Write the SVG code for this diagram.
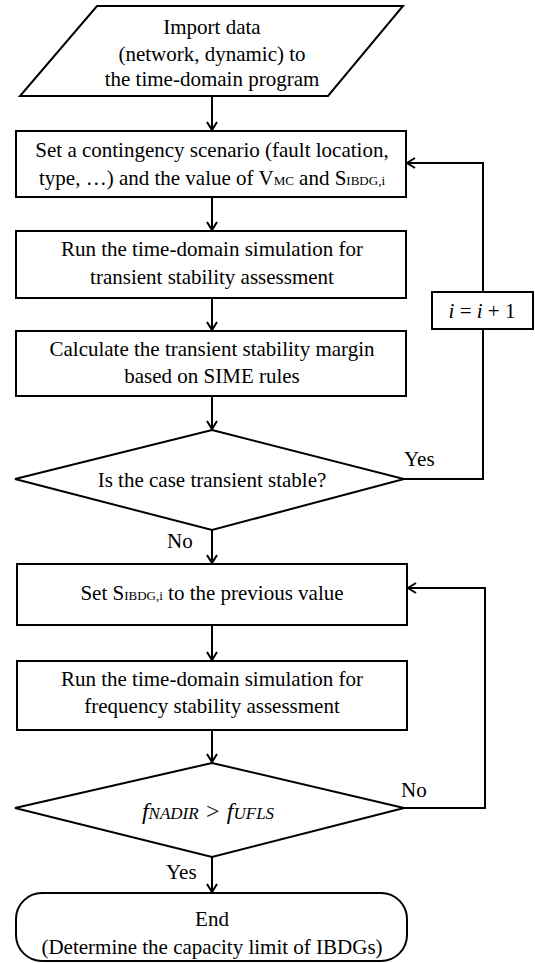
<svg xmlns="http://www.w3.org/2000/svg" width="535" height="963" viewBox="0 0 535 963">
<defs>
<marker id="ah" markerUnits="userSpaceOnUse" markerWidth="14" markerHeight="14" refX="10" refY="6" orient="auto">
<path d="M2,1 L10,6 L2,11" fill="none" stroke="#000" stroke-width="2"/>
</marker>
<style>
.s{fill:#fff;stroke:#000;stroke-width:2}
.c{fill:none;stroke:#000;stroke-width:2}
.a{marker-end:url(#ah)}
text{font-family:"Liberation Serif","Times New Roman",serif;font-size:21px;fill:#000}
.m{text-anchor:middle}
.sub{font-size:13px}
.it{font-style:italic}
</style>
</defs>
<rect width="535" height="963" fill="#fff"/>
<g id="connectors">
<line class="c a" x1="212" y1="96" x2="212" y2="130"/>
<line class="c a" x1="212" y1="197" x2="212" y2="230"/>
<line class="c a" x1="212" y1="298" x2="212" y2="330"/>
<line class="c a" x1="212" y1="396" x2="212" y2="429"/>
<line class="c a" x1="212" y1="530" x2="212" y2="563"/>
<line class="c a" x1="212" y1="625" x2="212" y2="660"/>
<line class="c a" x1="212" y1="730" x2="212" y2="762"/>
<line class="c a" x1="212" y1="857" x2="212" y2="892"/>
<polyline class="c" points="404,479 483,479 483,329"/>
<polyline class="c a" points="483,292 483,163 407,163"/>
<polyline class="c a" points="404,808 485,808 485,588 408,588"/>
<text x="404" y="466">Yes</text>
<text x="167" y="548">No</text>
<text x="401" y="797">No</text>
<text x="166" y="879">Yes</text>
</g>
<g id="import">
<polygon class="s" points="97,6 403,6 328,96 20,96"/>
<text class="m" x="212" y="34">Import data</text>
<text class="m" x="212" y="61">(network, dynamic) to</text>
<text class="m" x="212" y="86">the time-domain program</text>
</g>
<g id="set-scenario">
<rect class="s" x="16" y="131" width="390" height="66"/>
<text class="m" x="212" y="157">Set a contingency scenario (fault location,</text>
<text class="m" x="212" y="185">type, …) and the value of V<tspan class="sub">MC</tspan> and S<tspan class="sub">IBDG,i</tspan></text>
</g>
<g id="run-transient">
<rect class="s" x="16" y="231" width="390" height="67"/>
<text class="m" x="212" y="256">Run the time-domain simulation for</text>
<text class="m" x="212" y="284">transient stability assessment</text>
</g>
<g id="calc-margin">
<rect class="s" x="16" y="331" width="390" height="65"/>
<text class="m" x="212" y="356">Calculate the transient stability margin</text>
<text class="m" x="212" y="383">based on SIME rules</text>
</g>
<g id="increment">
<rect class="s" x="432" y="292" width="101" height="37"/>
<text class="m" x="482" y="318" style="font-size:21px"><tspan class="it">i</tspan> = <tspan class="it">i</tspan> + 1</text>
</g>
<g id="decision-transient">
<polygon class="s" points="212,430 404,479 212,530 15,479"/>
<text class="m" x="212" y="487">Is the case transient stable?</text>
</g>
<g id="set-previous">
<rect class="s" x="17" y="564" width="390" height="61"/>
<text class="m" x="212" y="600">Set S<tspan class="sub">IBDG,i</tspan> to the previous value</text>
</g>
<g id="run-frequency">
<rect class="s" x="17" y="661" width="390" height="69"/>
<text class="m" x="212" y="686">Run the time-domain simulation for</text>
<text class="m" x="212" y="713">frequency stability assessment</text>
</g>
<g id="decision-frequency">
<polygon class="s" points="212,763 404,808 212,857 15,808"/>
<text class="m it" x="208" y="819" style="font-size:24px">f<tspan style="font-size:17px">NADIR</tspan> &gt; f<tspan style="font-size:17px">UFLS</tspan></text>
</g>
<g id="end">
<rect class="s" x="16" y="893" width="391" height="68" rx="26" ry="26"/>
<text class="m" x="212" y="926">End</text>
<text class="m" x="212" y="954">(Determine the capacity limit of IBDGs)</text>
</g>
</svg>
